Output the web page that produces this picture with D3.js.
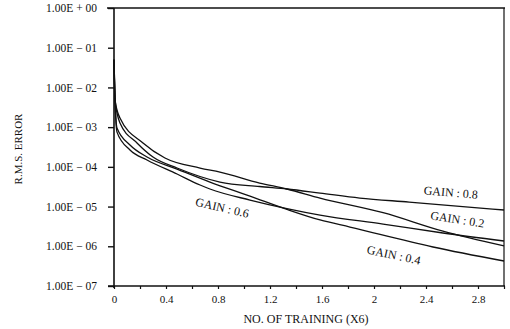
<!DOCTYPE html>
<html>
<head>
<meta charset="utf-8">
<script src="https://cdn.jsdelivr.net/npm/d3@7"></script>
<style>
  html, body { margin: 0; padding: 0; background: #fff; }
  svg { display: block; }
  text { font-family: "Liberation Serif", "DejaVu Serif", serif; fill: #111; }
</style>
</head>
<body>
<svg id="chart" width="510" height="329"></svg>
<script>
// ---- data ----
const yTickValues = [1, 1e-1, 1e-2, 1e-3, 1e-4, 1e-5, 1e-6, 1e-7];
const yTickLabels = ["1.00E + 00", "1.00E − 01", "1.00E − 02", "1.00E − 03",
                     "1.00E − 04", "1.00E − 05", "1.00E − 06", "1.00E − 07"];
const xTickValues = [0, 0.2, 0.4, 0.6, 0.8, 1.0, 1.2, 1.4, 1.6, 1.8, 2.0, 2.2, 2.4, 2.6, 2.8, 3.0];
const xTickLabels = {"0": "0", "0.4": "0.4", "0.8": "0.8", "1.2": "1.2", "1.6": "1.6", "2": "2", "2.4": "2.4", "2.8": "2.8"};

const gain02 = [[0, 0.05], [0.008, 4.8e-3], [0.046, 1.7e-3], [0.223, 4.0e-4], [0.392, 1.67e-4],
  [0.662, 9.35e-5], [0.815, 7.4e-5], [1.12, 3.92e-5], [1.33, 2.77e-5], [1.585, 1.64e-5],
  [2.07, 7.0e-6], [2.53, 2.4e-6], [3.0, 1.02e-6]];
const gain04 = [[0, 0.05], [0.008, 4.8e-3], [0.023, 9.5e-4], [0.123, 3.55e-4], [0.254, 1.77e-4],
  [0.485, 8.8e-5], [0.738, 4.15e-5], [1.046, 1.84e-5], [1.33, 8.5e-6], [1.585, 4.6e-6],
  [1.815, 3.05e-6], [2.454, 9.6e-7], [3.0, 4.26e-7]];
const gain06 = [[0, 0.05], [0.008, 4.8e-3], [0.023, 7.5e-4], [0.123, 2.65e-4], [0.254, 1.49e-4],
  [0.485, 6.6e-5], [0.662, 3.49e-5], [0.738, 2.77e-5], [1.046, 1.46e-5], [1.33, 8.9e-6],
  [1.585, 6.1e-6], [2.07, 3.63e-6], [2.53, 2.16e-6], [3.0, 1.36e-6]];
const gain08 = [[0, 0.05], [0.008, 4.8e-3], [0.046, 1.27e-3], [0.177, 4.0e-4], [0.30, 1.77e-4],
  [0.485, 9.35e-5], [0.815, 4.15e-5], [1.12, 3.2e-5], [1.33, 2.77e-5], [1.585, 2.19e-5],
  [1.89, 1.64e-5], [2.27, 1.3e-5], [3.0, 8.2e-6]];

const seriesNames = ["GAIN : 0.2", "GAIN : 0.4", "GAIN : 0.6", "GAIN : 0.8"];
const seriesData = [gain02, gain04, gain06, gain08];
// label anchor in data space + rotation
const labelPos = [[2.64, 4.4e-6], [2.15, 5.6e-7], [0.83, 8.7e-6], [2.59, 2.1e-5]];
const labelRot = [9, 12, 13, 5];

// ---- layout ----
const mLeft = 114, mRight = 504, mTop = 8, mBottom = 286;
const svg = d3.select("#chart");
const x = d3.scaleLinear().domain([0, 3]).range([mLeft, mRight]);
const y = d3.scaleLog().domain([1e-7, 1]).range([mBottom, mTop]);

// y axis
const yAxis = d3.axisLeft(y).tickValues(yTickValues).tickSize(6).tickPadding(11)
  .tickFormat((d, i) => yTickLabels[i]);
const gy = svg.append("g").attr("transform", `translate(${mLeft},0)`).call(yAxis);
gy.select(".domain").remove();
gy.selectAll("line").attr("stroke", "#111").attr("stroke-width", 1.4);
gy.selectAll("text").style("font-size", "11.5px").attr("fill", "#111");

// x axis
const xAxis = d3.axisBottom(x).tickValues(xTickValues).tickSize(3).tickPadding(6)
  .tickFormat(d => { const k = String(+d.toFixed(1)); return xTickLabels[k] || ""; });
const gx = svg.append("g").attr("transform", `translate(0,${mBottom})`).call(xAxis);
gx.select(".domain").remove();
gx.selectAll("line").attr("stroke", "#111").attr("stroke-width", 1.2);
gx.selectAll("text").style("font-size", "11px").attr("fill", "#111");

// frame
svg.append("line").attr("x1", mLeft - 7).attr("x2", mRight + 1).attr("y1", mTop).attr("y2", mTop)
  .attr("stroke", "#111").attr("stroke-width", 1.6);
svg.append("line").attr("x1", mLeft - 6).attr("x2", mRight + 1).attr("y1", mBottom).attr("y2", mBottom)
  .attr("stroke", "#111").attr("stroke-width", 1.4);
svg.append("line").attr("x1", mLeft).attr("x2", mLeft).attr("y1", mTop).attr("y2", mBottom + 2)
  .attr("stroke", "#111").attr("stroke-width", 1.6);
svg.append("line").attr("x1", mRight).attr("x2", mRight).attr("y1", mTop).attr("y2", mBottom)
  .attr("stroke", "#111").attr("stroke-width", 1.2);

// curves
const line = d3.line().x(d => x(d[0])).y(d => y(d[1])).curve(d3.curveMonotoneX);
svg.append("g").selectAll("path").data(seriesData).join("path")
  .attr("d", line).attr("fill", "none").attr("stroke", "#111").attr("stroke-width", 1.3);

// labels
svg.append("g").selectAll("text").data(seriesNames).join("text")
  .attr("transform", (d, i) => `translate(${x(labelPos[i][0])},${y(labelPos[i][1])}) rotate(${labelRot[i]})`)
  .attr("text-anchor", "middle").attr("dominant-baseline", "middle")
  .style("font-size", "12px").text(d => d);

// axis titles
svg.append("text").attr("x", 306).attr("y", 323).attr("text-anchor", "middle")
  .style("font-size", "12px").text("NO. OF TRAINING (X6)");
svg.append("text").attr("transform", "translate(22,149) rotate(-90)").attr("text-anchor", "middle")
  .style("font-size", "11px").text("R.M.S. ERROR");
</script>
</body>
</html>
